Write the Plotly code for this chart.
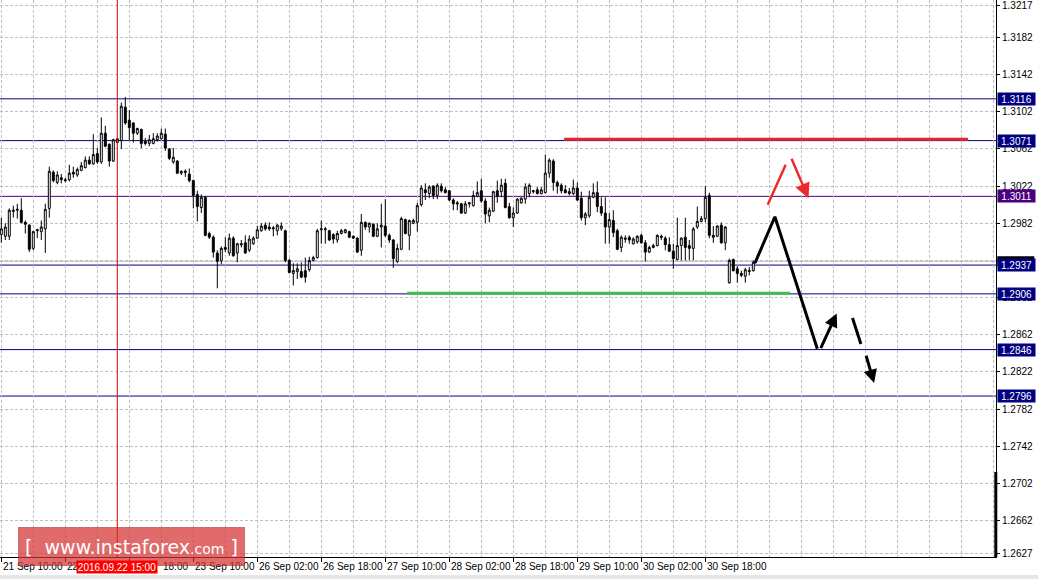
import plotly.graph_objects as go

# ---------------- data (GBP/USD H1) ----------------
opens = [1.2970,1.2968,1.2968,1.2996,1.2996,1.2996,1.2983,1.2980,1.2955,1.2974,
         1.2973,1.2976,1.2998,1.3037,1.3026,1.3031,1.3029,1.3029,1.3037,1.3034,
         1.3039,1.3042,1.3050,1.3046,1.3057,1.3048,1.3079,1.3067,1.3049,1.3069,
         1.3071,1.3107,1.3093,1.3090,1.3079,1.3083,1.3070,1.3068,1.3068,1.3072,
         1.3073,1.3078,1.3062,1.3048,1.3049,1.3036,1.3038,1.3035,1.3028,1.3013,
         1.2999,1.3010,1.2971,1.2967,1.2950,1.2942,1.2956,1.2950,1.2966,1.2950,
         1.2960,1.2961,1.2953,1.2960,1.2966,1.2974,1.2980,1.2978,1.2976,1.2974,
         1.2976,1.2974,1.2942,1.2928,1.2930,1.2930,1.2931,1.2932,1.2942,1.2945,
         1.2975,1.2975,1.2974,1.2970,1.2964,1.2971,1.2972,1.2973,1.2968,1.2966,
         1.2953,1.2983,1.2978,1.2981,1.2968,1.2978,1.2979,1.2969,1.2964,1.2941,
         1.2954,1.2986,1.2969,1.2982,1.2983,1.3002,1.3018,1.3014,1.3022,1.3012,
         1.3022,1.3018,1.3017,1.3007,1.3004,1.3003,1.2993,1.3003,1.3001,1.3011,
         1.3017,1.3006,1.2990,1.2995,1.3017,1.3016,1.3025,1.3000,1.2988,1.2993,
         1.3004,1.3008,1.3014,1.3016,1.3018,1.3014,1.3015,1.3036,1.3049,1.3026,
         1.3023,1.3018,1.3016,1.3014,1.3020,1.3009,1.2988,1.2990,1.3010,1.3015,
         1.3000,1.2993,1.2978,1.2985,1.2974,1.2956,1.2966,1.2967,1.2960,1.2962,
         1.2969,1.2961,1.2951,1.2956,1.2958,1.2968,1.2966,1.2959,1.2952,1.2943,
         1.2958,1.2967,1.2958,1.2955,1.2978,1.2984,1.2987,1.3012,1.2969,1.2968,
         1.2980,1.2961,1.2918,1.2943,1.2933,1.2928,1.2925,1.2930,1.2931]
highs = [1.2988,1.2982,1.2998,1.3001,1.3003,1.3009,1.2985,1.2981,1.2974,1.2976,
         1.2985,1.3003,1.3043,1.3039,1.3038,1.3035,1.3031,1.3045,1.3043,1.3042,
         1.3048,1.3054,1.3054,1.3078,1.3063,1.3096,1.3087,1.3068,1.3073,1.3074,
         1.3112,1.3118,1.3104,1.3091,1.3085,1.3084,1.3074,1.3077,1.3079,1.3079,
         1.3084,1.3084,1.3063,1.3063,1.3050,1.3039,1.3040,1.3041,1.3029,1.3017,
         1.3013,1.3011,1.2973,1.2969,1.2953,1.2957,1.2967,1.2971,1.2968,1.2961,
         1.2964,1.2969,1.2969,1.2968,1.2979,1.2982,1.2983,1.2983,1.2979,1.2981,
         1.2983,1.2975,1.2944,1.2939,1.2939,1.2940,1.2945,1.2946,1.2947,1.2976,
         1.2985,1.2978,1.2975,1.2971,1.2974,1.2976,1.2976,1.2974,1.2969,1.2967,
         1.2992,1.2984,1.2983,1.2982,1.2982,1.3003,1.3008,1.2971,1.2965,1.2960,
         1.2989,1.2987,1.2986,1.2987,1.3004,1.3023,1.3025,1.3023,1.3023,1.3025,
         1.3025,1.3021,1.3018,1.3009,1.3006,1.3004,1.3006,1.3005,1.3017,1.3027,
         1.3030,1.3009,1.2999,1.3017,1.3028,1.3030,1.3030,1.3004,1.2999,1.3009,
         1.3010,1.3025,1.3025,1.3018,1.3021,1.3021,1.3056,1.3052,1.3051,1.3028,
         1.3025,1.3023,1.3020,1.3029,1.3026,1.3016,1.2994,1.3017,1.3025,1.3027,
         1.3010,1.3010,1.2993,1.2996,1.2976,1.2969,1.2969,1.2969,1.2967,1.2969,
         1.2971,1.2964,1.2958,1.2960,1.2970,1.2970,1.2968,1.2967,1.2960,1.2988,
         1.2967,1.2988,1.2964,1.2978,1.3000,1.2990,1.3022,1.3015,1.2979,1.2980,
         1.2983,1.2979,1.2944,1.2944,1.2936,1.2931,1.2934,1.2935,1.2942]
lows = [1.2961,1.2964,1.2964,1.2988,1.2987,1.2982,1.2971,1.2951,1.2953,1.2966,
        1.2964,1.2950,1.2988,1.3026,1.3024,1.3025,1.3026,1.3027,1.3031,1.3032,
        1.3038,1.3041,1.3045,1.3045,1.3046,1.3046,1.3064,1.3043,1.3048,1.3068,
        1.3062,1.3088,1.3071,1.3069,1.3077,1.3063,1.3066,1.3065,1.3067,1.3070,
        1.3072,1.3060,1.3050,1.3046,1.3035,1.3034,1.3032,1.3026,1.2998,1.2984,
        1.2993,1.2968,1.2965,1.2945,1.2912,1.2938,1.2951,1.2947,1.2946,1.2940,
        1.2956,1.2949,1.2951,1.2959,1.2965,1.2973,1.2974,1.2974,1.2968,1.2969,
        1.2974,1.2940,1.2928,1.2915,1.2922,1.2923,1.2918,1.2930,1.2941,1.2944,
        1.2960,1.2960,1.2963,1.2960,1.2961,1.2970,1.2971,1.2966,1.2965,1.2950,
        1.2947,1.2975,1.2972,1.2967,1.2967,1.2956,1.2967,1.2961,1.2934,1.2939,
        1.2953,1.2970,1.2953,1.2981,1.2973,1.3000,1.3007,1.3009,1.3008,1.3008,
        1.3015,1.3014,1.3006,1.2996,1.2996,1.2992,1.2992,1.2999,1.3000,1.3010,
        1.3004,1.2982,1.2983,1.2994,1.3004,1.3010,1.2998,1.2987,1.2978,1.2992,
        1.3003,1.3003,1.3010,1.3014,1.3013,1.3013,1.3014,1.3031,1.3017,1.3014,
        1.3014,1.3014,1.3012,1.3012,1.3006,1.2985,1.2980,1.2988,1.3009,1.2994,
        1.2990,1.2960,1.2960,1.2967,1.2953,1.2951,1.2961,1.2960,1.2959,1.2960,
        1.2960,1.2941,1.2950,1.2955,1.2957,1.2964,1.2953,1.2951,1.2933,1.2942,
        1.2942,1.2942,1.2942,1.2942,1.2976,1.2983,1.2983,1.2966,1.2961,1.2967,
        1.2960,1.2953,1.2917,1.2930,1.2918,1.2924,1.2918,1.2926,1.2930]
closes = [1.2976,1.2978,1.2996,1.2995,1.2997,1.2983,1.2981,1.2954,1.2973,1.2975,
          1.2978,1.2997,1.3038,1.3028,1.3034,1.3029,1.3028,1.3036,1.3035,1.3040,
          1.3044,1.3050,1.3046,1.3056,1.3048,1.3079,1.3065,1.3049,1.3072,1.3073,
          1.3108,1.3090,1.3085,1.3079,1.3084,1.3068,1.3068,1.3072,1.3073,1.3076,
          1.3079,1.3063,1.3052,1.3053,1.3036,1.3038,1.3037,1.3028,1.3012,1.3000,
          1.3010,1.2969,1.2967,1.2951,1.2941,1.2955,1.2954,1.2966,1.2947,1.2960,
          1.2959,1.2950,1.2965,1.2966,1.2975,1.2979,1.2976,1.2976,1.2977,1.2980,
          1.2979,1.2942,1.2929,1.2931,1.2933,1.2924,1.2924,1.2942,1.2945,1.2974,
          1.2976,1.2976,1.2964,1.2965,1.2971,1.2974,1.2975,1.2967,1.2966,1.2951,
          1.2983,1.2978,1.2982,1.2968,1.2976,1.2980,1.2969,1.2964,1.2944,1.2955,
          1.2987,1.2971,1.2985,1.2985,1.3001,1.3020,1.3015,1.3021,1.3012,1.3023,
          1.3017,1.3015,1.3007,1.3003,1.3003,1.2993,1.3003,1.3004,1.3012,1.3015,
          1.3006,1.2992,1.2996,1.3016,1.3011,1.3023,1.2999,1.2988,1.2993,1.3008,
          1.3009,1.3021,1.3023,1.3017,1.3014,1.3018,1.3036,1.3050,1.3026,1.3022,
          1.3017,1.3015,1.3014,1.3020,1.3007,1.2988,1.2992,1.3010,1.3015,1.3000,
          1.2993,1.2978,1.2986,1.2972,1.2954,1.2967,1.2965,1.2964,1.2965,1.2968,
          1.2961,1.2951,1.2956,1.2958,1.2969,1.2967,1.2959,1.2952,1.2944,1.2958,
          1.2966,1.2956,1.2955,1.2976,1.2984,1.2987,1.3010,1.2969,1.2967,1.2979,
          1.2961,1.2978,1.2942,1.2931,1.2928,1.2926,1.2932,1.2931,1.2940]

# time-axis labels (bar index of each label and the part of it that is visible)
time_label_bars = [0, 16, 32, 48, 64, 80, 96, 112, 128, 144, 160, 176]
time_labels = ["21 Sep 10:00", "22", "18:00", "23 Sep 10:00",
               "26 Sep 02:00", "26 Sep 18:00", "27 Sep 10:00", "28 Sep 02:00",
               "28 Sep 18:00", "29 Sep 10:00", "30 Sep 02:00", "30 Sep 18:00"]
marked_bar = 29
marked_time = "2016.09.22 15:00"

# price scale ticks (1.2942 is hidden under the level boxes)
price_ticks = [1.3217, 1.3182, 1.3142, 1.3102, 1.3062, 1.3022, 1.2982, 1.2942,
               1.2902, 1.2862, 1.2822, 1.2782, 1.2742, 1.2702, 1.2662, 1.2627]
price_tick_text = ["" if p == 1.2942 else "%.4f" % p for p in price_ticks]

# horizontal levels
levels = [1.3116, 1.3071, 1.3011, 1.2937, 1.2906, 1.2846, 1.2796]
level_colors = ["#000080", "#000080", "#4b0082", "#000080", "#000080", "#000080", "#000080"]
bid_price = 1.2941

# analysis drawings (bar index, price)
resistance_bars = [140.7, 241.7]
resistance_price = 1.30725
support_bars = [101.4, 197.2]
support_price = 1.29068
path_bars = [188.4, 193.4, 204.0]
path_prices = [1.2939, 1.2989, 1.2847]
up_arrow = [(204.7, 1.2846), (208.85, 1.2885)]
dash_seg = [(212.8, 1.2880), (214.9, 1.2852)]
down_arrow = [(216.1, 1.2841), (218.2, 1.2810)]
red_seg = [(191.6, 1.3002), (196.1, 1.3045)]
red_arrow = [(197.4, 1.3053), (201.8, 1.3009)]

# ---------------- figure ----------------
PLOT_W, PLOT_H = 996, 557
bars = list(range(len(opens)))
FONT = "Liberation Sans"

fig = go.Figure()
fig.add_trace(go.Candlestick(
    x=bars, open=opens, high=highs, low=lows, close=closes,
    increasing=dict(line=dict(color="black", width=1), fillcolor="white"),
    decreasing=dict(line=dict(color="black", width=1), fillcolor="black"),
    whiskerwidth=0, showlegend=False, hoverinfo="skip"))

fig.add_trace(go.Scatter(x=path_bars, y=path_prices, mode="lines",
                         line=dict(color="black", width=3), showlegend=False,
                         hoverinfo="skip"))

shapes = []
for lv, col in zip(levels, level_colors):
    shapes.append(dict(type="line", xref="paper", x0=0, x1=1, yref="y", y0=lv, y1=lv,
                       line=dict(color=col, width=1), layer="between"))
shapes.append(dict(type="line", xref="paper", x0=0, x1=1, yref="y", y0=bid_price, y1=bid_price,
                   line=dict(color="#c0c0c0", width=1), layer="between"))
shapes.append(dict(type="line", xref="x", x0=resistance_bars[0], x1=resistance_bars[1],
                   yref="y", y0=resistance_price, y1=resistance_price,
                   line=dict(color="#e4232b", width=3), layer="above"))
shapes.append(dict(type="line", xref="x", x0=support_bars[0], x1=support_bars[1],
                   yref="y", y0=support_price, y1=support_price,
                   line=dict(color="#3fbf4f", width=3), layer="above"))
shapes.append(dict(type="line", xref="x", x0=marked_bar, x1=marked_bar, yref="paper", y0=0, y1=1,
                   line=dict(color="#dd0000", width=1), layer="above"))
shapes.append(dict(type="line", xref="x", x0=dash_seg[0][0], x1=dash_seg[1][0],
                   yref="y", y0=dash_seg[0][1], y1=dash_seg[1][1],
                   line=dict(color="black", width=3), layer="above"))
shapes.append(dict(type="line", xref="x", x0=red_seg[0][0], x1=red_seg[1][0],
                   yref="y", y0=red_seg[0][1], y1=red_seg[1][1],
                   line=dict(color="#ee2a2a", width=2.5), layer="above"))
# thick segment on the price scale
shapes.append(dict(type="line", xref="paper", x0=995.8 / PLOT_W, x1=995.8 / PLOT_W,
                   yref="paper", y0=0, y1=85 / PLOT_H, line=dict(color="black", width=3),
                   layer="above"))
# bid price marker on the scale (mostly hidden by the 1.2937 box)
shapes.append(dict(type="rect", xref="paper", x0=997.3 / PLOT_W, x1=1034.3 / PLOT_W,
                   yref="y", y0=bid_price - 0.00055, y1=bid_price + 0.00055,
                   fillcolor="black", line=dict(width=0), layer="above"))
# window border strip
shapes.append(dict(type="rect", xref="paper", yref="paper", x0=-0.01, x1=1038 / PLOT_W,
                   y0=(PLOT_H - 580) / PLOT_H, y1=(PLOT_H - 575) / PLOT_H,
                   fillcolor="#e6e6e6", line=dict(width=0), layer="above"))

annotations = []
for (tail, tip, col, w, sz) in [(up_arrow[0], up_arrow[1], "black", 3, 0.9),
                                (down_arrow[0], down_arrow[1], "black", 3, 0.9),
                                (red_arrow[0], red_arrow[1], "#ee2a2a", 2.5, 1.2)]:
    annotations.append(dict(x=tip[0], y=tip[1], ax=tail[0], ay=tail[1], xref="x", yref="y",
                            axref="x", ayref="y", text="", showarrow=True, arrowhead=2,
                            arrowsize=sz, arrowwidth=w, arrowcolor=col, standoff=0))

label_y = (PLOT_H - 566.5) / PLOT_H
for b, t in zip(time_label_bars, time_labels):
    annotations.append(dict(x=b, y=label_y, xref="x", yref="paper", text=t, showarrow=False,
                            xanchor="left", yanchor="middle",
                            xshift=32 if t == "18:00" else 0,
                            font=dict(family=FONT, size=10, color="black")))

# price level boxes on the scale
for lv, col in zip(levels, level_colors):
    annotations.append(dict(x=997.3 / PLOT_W, y=lv, xref="paper", yref="y", text="%.4f" % lv,
                            showarrow=False, xanchor="left", yanchor="middle", bgcolor=col,
                            width=35, height=10, borderpad=1,
                            font=dict(family=FONT, size=10, color="white")))

# logo
annotations.append(dict(x=131.5 / PLOT_W, y=(PLOT_H - 546.5) / PLOT_H, xref="paper", yref="paper",
                        text="[&nbsp;&nbsp;www.instaforex<span style='font-size:14px'>.com</span>&nbsp;]",
                        showarrow=False, xanchor="center", yanchor="middle",
                        bgcolor="rgba(214,48,48,0.72)", bordercolor="rgba(150,40,40,0.5)",
                        borderwidth=1, width=225, height=37, borderpad=0,
                        font=dict(family="DejaVu Sans", size=19, color="white")))
# marked time box
annotations.append(dict(x=marked_bar, y=label_y, xref="x", yref="paper", text=marked_time,
                        showarrow=False, xanchor="center", yanchor="middle", bgcolor="#ff0000",
                        width=78, height=10, borderpad=1,
                        font=dict(family=FONT, size=10, color="white")))

fig.update_layout(
    width=1038, height=579, margin=dict(l=0, r=1038 - PLOT_W, t=0, b=579 - PLOT_H),
    paper_bgcolor="white", plot_bgcolor="white", showlegend=False,
    shapes=shapes, annotations=annotations, hovermode=False,
    xaxis=dict(range=[-0.325, -0.325 + PLOT_W / 4.0], rangeslider=dict(visible=False),
               tickmode="array", tickvals=time_label_bars, showticklabels=False,
               ticks="outside", ticklen=4, tickcolor="black",
               showline=True, linecolor="black", linewidth=1, zeroline=False,
               showgrid=True, gridcolor="#c0c0c0", gridwidth=1, griddash="3px,2px",
               minor=dict(tick0=0, dtick=8, showgrid=True, gridcolor="#c0c0c0",
                          gridwidth=1, griddash="3px,2px", ticks="")),
    yaxis=dict(side="right", range=[1.26227, 1.32224], tickmode="array",
               tickvals=price_ticks, ticktext=price_tick_text,
               ticks="outside", ticklen=3, tickcolor="black", ticklabeloverflow="allow",
               tickfont=dict(family=FONT, size=10, color="black"),
               showline=True, linecolor="black", linewidth=1, zeroline=False,
               showgrid=True, gridcolor="#c0c0c0", gridwidth=1, griddash="3px,2px"),
)

fig.write_html("out.html", config={"displayModeBar": False},
               post_script="document.body.style.margin='0px';document.body.style.overflow='hidden';")
